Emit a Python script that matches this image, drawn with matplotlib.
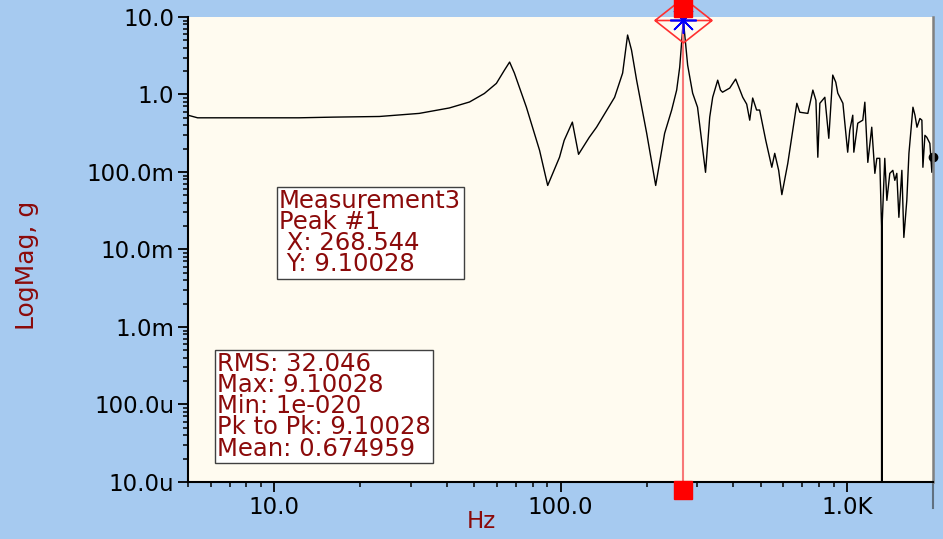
import numpy as np
import matplotlib
matplotlib.use("Agg")
import matplotlib.pyplot as plt
from matplotlib.ticker import FixedLocator, FixedFormatter, LogLocator, NullFormatter
from matplotlib.path import Path
import matplotlib.transforms as mtransforms

# spectrum (Hz, g)
freq = [5.0, 5.4, 6.5, 8.0, 10.0, 12.2, 16.0, 23.3, 32.1, 40.9, 48.1, 54.2, 59.7, 63.7,
        66.4, 69.0, 76.0, 84.5, 90.2, 99.2, 103, 110, 115.6, 126, 133.6, 154.5, 164.8,
        171.5, 177, 184.4, 200, 215, 231, 244.5, 254.5, 260.8, 268.544, 278, 289.4, 301,
        311, 321, 332, 340, 354, 362, 368, 390, 409, 433, 447, 458, 469, 484, 496, 521,
        547, 560, 578, 593, 622, 669, 685, 731, 761, 780, 792, 805, 838, 865, 893, 915,
        930, 969, 1007, 1024, 1049, 1058, 1092, 1137, 1156, 1184, 1222, 1253, 1273, 1303,
        1322, 1325, 1328, 1357, 1380, 1413, 1448, 1471, 1495, 1520, 1557, 1582, 1620,
        1648, 1675, 1702, 1730, 1758, 1800, 1829, 1844, 1874, 1903, 1950, 1982, 2000]
mag = [0.54, 0.50, 0.50, 0.50, 0.50, 0.50, 0.51, 0.52, 0.57, 0.67, 0.80, 1.03, 1.39, 2.06,
       2.62, 1.89, 0.685, 0.19, 0.067, 0.155, 0.256, 0.44, 0.169, 0.28, 0.378, 0.92, 1.89,
       5.85, 3.74, 1.53, 0.315, 0.067, 0.315, 0.63, 1.14, 2.25, 9.10028, 2.39, 1.04, 0.685,
       0.256, 0.099, 0.51, 0.92, 1.53, 1.14, 1.07, 1.21, 1.58, 0.92, 0.75, 0.466, 0.90,
       0.63, 0.63, 0.256, 0.115, 0.174, 0.105, 0.051, 0.129, 0.77, 0.59, 0.57, 1.14, 0.84,
       0.155, 0.77, 0.92, 0.272, 1.78, 1.44, 1.04, 0.77, 0.18, 0.345, 0.54, 0.18, 0.426,
       0.466, 0.795, 0.133, 0.378, 0.096, 0.15, 0.15, 0.02, 1e-20, 0.02, 0.15, 0.043, 0.096,
       0.105, 0.078, 0.096, 0.026, 0.105, 0.0143, 0.043, 0.174, 0.345, 0.685, 0.54, 0.378,
       0.49, 0.466, 0.115, 0.297, 0.28, 0.234, 0.099, 0.155]

peak_x = 268.544
peak_y = 9.10028

y_ticks = [1e-5, 1e-4, 1e-3, 1e-2, 1e-1, 1.0, 10.0]
y_labels = ["10.0u", "100.0u", "1.0m", "10.0m", "100.0m", "1.0", "10.0"]
x_ticks = [10, 100, 1000]
x_labels = ["10.0", "100.0", "1.0K"]

peak_text = "Measurement3\nPeak #1\n X: 268.544\n Y: 9.10028"
stats_text = "RMS: 32.046\nMax: 9.10028\nMin: 1e-020\nPk to Pk: 9.10028\nMean: 0.674959"

plt.rcParams['font.family'] = ['DejaVu Sans']
dark_red = '#8B0A0A'

fig = plt.figure(figsize=(9.43, 5.39), dpi=100)
fig.patch.set_facecolor('#A6CAF0')
ax = fig.add_axes([0.1994, 0.1058, 0.7900, 0.8627])
ax.set_facecolor('#FFFBF0')

ax.set_xscale('log')
ax.set_yscale('log')
ax.set_xlim(5, 2000)
ax.set_ylim(1e-5, 10)

ax.plot(freq, mag, color='black', lw=1.0)
ax.plot([freq[-1]], [mag[-1]], 'o', color='black', ms=6, clip_on=False)

# peak cursor
xblend = mtransforms.blended_transform_factory(ax.transData, ax.transAxes)
ax.axvline(peak_x, color='#F87878', lw=1.5)
ax.plot([peak_x], [1.019], transform=xblend, marker='s', ms=13, color='red',
        clip_on=False, zorder=6)
ax.plot([peak_x], [-0.018], transform=xblend, marker='s', ms=13, color='red',
        clip_on=False, zorder=6)
diamond = Path([(-1.27, 0), (0, 1), (1.27, 0), (0, -1), (-1.27, 0), (-1.27, 0), (1.27, 0)],
               [Path.MOVETO, Path.LINETO, Path.LINETO, Path.LINETO, Path.CLOSEPOLY,
                Path.MOVETO, Path.LINETO])
ax.plot([peak_x], [peak_y], marker=diamond, ms=41, mfc='none', mec='#FF3030', mew=1.2,
        clip_on=False, zorder=5)
ax.plot([peak_x], [peak_y], marker=(8, 2, 0), ms=19, color='blue', mew=1.2,
        clip_on=False, zorder=5)

# ticks
ax.yaxis.set_major_locator(FixedLocator(y_ticks))
ax.yaxis.set_major_formatter(FixedFormatter(y_labels))
ax.yaxis.set_minor_locator(LogLocator(base=10, subs=np.arange(2, 10), numticks=20))
ax.yaxis.set_minor_formatter(NullFormatter())
ax.xaxis.set_major_locator(FixedLocator(x_ticks))
ax.xaxis.set_major_formatter(FixedFormatter(x_labels))
ax.xaxis.set_minor_locator(LogLocator(base=10, subs=np.arange(2, 10), numticks=20))
ax.xaxis.set_minor_formatter(NullFormatter())
ax.tick_params(which='major', length=7, width=1.3, labelsize=16.5, pad=3, colors='black')
ax.tick_params(which='minor', length=3.5, width=1.1)

ax.spines['top'].set_visible(False)
ax.spines['left'].set_linewidth(1.5)
ax.spines['bottom'].set_linewidth(1.5)
ax.spines['right'].set_color('#808080')
ax.spines['right'].set_linewidth(1.8)
ax.plot([2000, 2000], [0, -0.055], transform=xblend, color='#607080', lw=1.5, clip_on=False)

fig.text(481 / 943, 1 - 522 / 539, "Hz", color=dark_red, fontsize=16.5, ha='center', va='center')
fig.text(27 / 943, 1 - 265 / 539, "LogMag, g", color=dark_red, fontsize=18, ha='center',
         va='center', rotation=90)

box = dict(boxstyle='square,pad=0.1', fc='white', ec='#404040', lw=1)
fig.text(279 / 943, 1 - 189 / 539, peak_text, color=dark_red, fontsize=17.5, ha='left', va='top',
         linespacing=0.85, bbox=box)
fig.text(217 / 943, 1 - 352 / 539, stats_text, color=dark_red, fontsize=17.5, ha='left', va='top',
         linespacing=0.85, bbox=box)

fig.savefig('out.png', dpi=100, facecolor=fig.get_facecolor())
